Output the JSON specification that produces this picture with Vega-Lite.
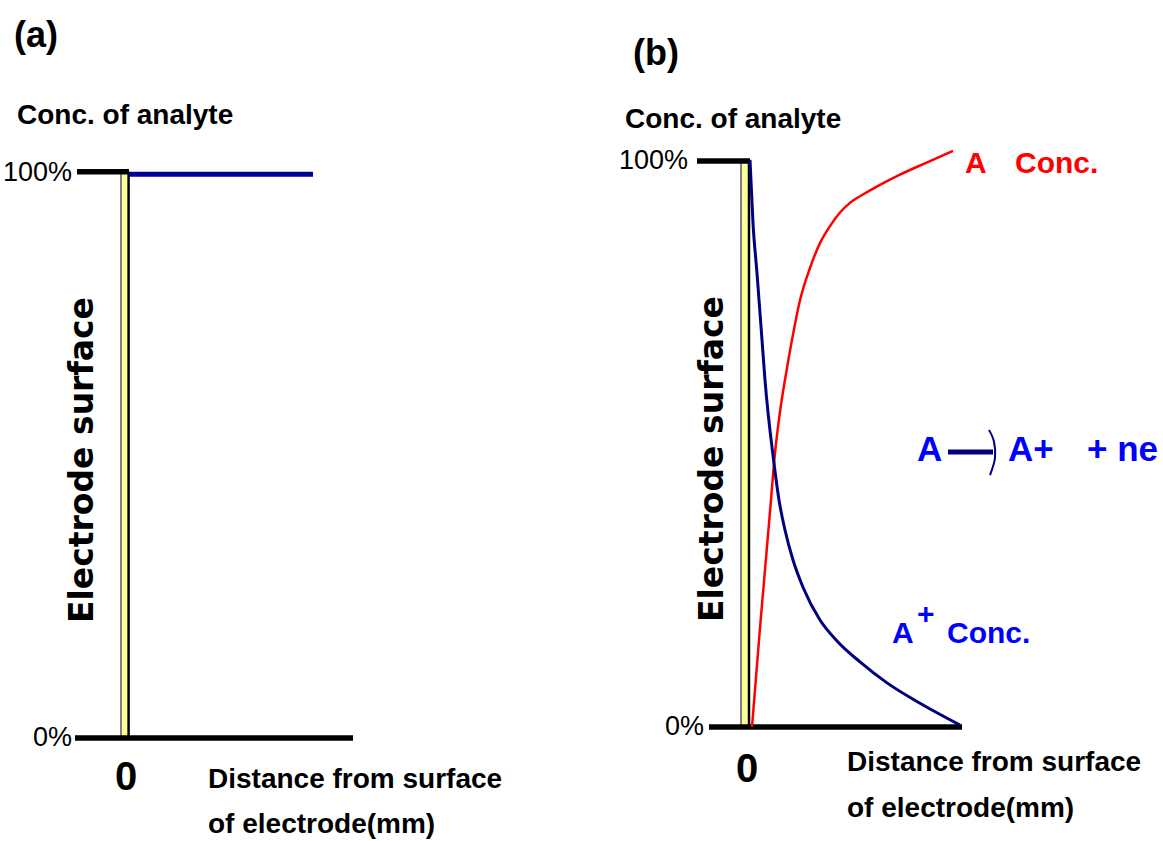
{
  "$schema": "https://vega.github.io/schema/vega-lite/v6.json",
  "background": "white",
  "padding": 0,
  "spacing": 0,
  "bounds": "flush",
  "config": {"view": {"stroke": null}},
  "hconcat": [
    {
      "width": 580,
      "height": 841,
      "encoding": {
        "x": {"field": "x", "type": "quantitative", "scale": {"domain": [-6.45, 22.55], "nice": false, "zero": false}, "axis": null},
        "y": {"field": "y", "type": "quantitative", "scale": {"domain": [-18.23, 130.62], "nice": false, "zero": false}, "axis": null}
      },
      "layer": [
        {
          "data": {"values": [{"x": -0.4, "x2": 0, "y": 0, "y2": 100}]},
          "mark": {"type": "rect", "fill": "#ffff99"},
          "encoding": {"x2": {"field": "x2"}, "y2": {"field": "y2"}}
        },
        {
          "data": {"values": [{"x": -0.4, "y": 0, "y2": 100}]},
          "mark": {"type": "rule", "stroke": "#808080", "strokeWidth": 2},
          "encoding": {"y2": {"field": "y2"}}
        },
        {
          "data": {"values": [{"x": -0.02, "y": 0, "y2": 100.2}]},
          "mark": {"type": "rule", "stroke": "#000000", "strokeWidth": 2.5},
          "encoding": {"y2": {"field": "y2"}}
        },
        {
          "data": {"values": [{"x": -2.6, "x2": 0, "y": 100.2}, {"x": -2.7, "x2": 11.2, "y": 0}]},
          "mark": {"type": "rule", "stroke": "#000000", "strokeWidth": 5.5},
          "encoding": {"x2": {"field": "x2"}}
        },
        {
          "data": {"values": [{"x": 0, "x2": 9.2, "y": 99.8}]},
          "mark": {"type": "rule", "stroke": "#000099", "strokeWidth": 5},
          "encoding": {"x2": {"field": "x2"}}
        },
        {
          "data": {"values": [{"x": -2.85, "y": 100, "label": "100%"}, {"x": -2.85, "y": 0, "label": "0%"}]},
          "mark": {"type": "text", "align": "right", "baseline": "middle", "font": "Liberation Sans", "fontSize": 27, "fill": "#000000"},
          "encoding": {"text": {"field": "label"}}
        },
        {
          "data": {"values": [{"x": -5.75, "y": 124.2, "label": "(a)"}]},
          "mark": {"type": "text", "align": "left", "baseline": "middle", "font": "Liberation Sans", "fontWeight": "bold", "fontSize": 36, "fill": "#000000"},
          "encoding": {"text": {"field": "label"}}
        },
        {
          "data": {"values": [{"x": -5.6, "y": 108.67, "label": "Conc. of analyte"}]},
          "mark": {"type": "text", "align": "left", "baseline": "alphabetic", "font": "Liberation Sans", "fontWeight": "bold", "fontSize": 28, "fill": "#000000"},
          "encoding": {"text": {"field": "label"}}
        },
        {
          "data": {"values": [{"x": -2.3, "y": 49.2, "label": "Electrode surface"}]},
          "mark": {"type": "text", "align": "center", "baseline": "middle", "angle": 270, "font": "DejaVu Sans", "fontWeight": "bold", "fontSize": 33, "fill": "#000000"},
          "encoding": {"text": {"field": "label"}}
        },
        {
          "data": {"values": [{"x": -0.15, "y": -9.2, "label": "0"}]},
          "mark": {"type": "text", "align": "center", "baseline": "alphabetic", "font": "Liberation Sans", "fontWeight": "bold", "fontSize": 40, "fill": "#000000"},
          "encoding": {"text": {"field": "label"}}
        },
        {
          "data": {"values": [{"x": 3.95, "y": -8.85, "label": "Distance from surface"}, {"x": 3.95, "y": -16.8, "label": "of electrode(mm)"}]},
          "mark": {"type": "text", "align": "left", "baseline": "alphabetic", "font": "Liberation Sans", "fontWeight": "bold", "fontSize": 28, "fill": "#000000"},
          "encoding": {"text": {"field": "label"}}
        }
      ]
    },
    {
      "width": 583,
      "height": 841,
      "encoding": {
        "x": {"field": "x", "type": "quantitative", "scale": {"domain": [-8.5, 20.65], "nice": false, "zero": false}, "axis": null},
        "y": {"field": "y", "type": "quantitative", "scale": {"domain": [-20.14, 128.45], "nice": false, "zero": false}, "axis": null}
      },
      "layer": [
        {
          "data": {"values": [{"x": -0.45, "x2": 0, "y": 0, "y2": 100}]},
          "mark": {"type": "rect", "fill": "#ffff99"},
          "encoding": {"x2": {"field": "x2"}, "y2": {"field": "y2"}}
        },
        {
          "data": {"values": [{"x": -0.45, "y": 0, "y2": 100}]},
          "mark": {"type": "rule", "stroke": "#808080", "strokeWidth": 2},
          "encoding": {"y2": {"field": "y2"}}
        },
        {
          "data": {"values": [{"x": -0.05, "y": 0, "y2": 100}]},
          "mark": {"type": "rule", "stroke": "#000000", "strokeWidth": 2.5},
          "encoding": {"y2": {"field": "y2"}}
        },
        {
          "data": {"values": [{"x": -2.65, "x2": 0, "y": 100}, {"x": -2.05, "x2": 10.6, "y": 0}]},
          "mark": {"type": "rule", "stroke": "#000000", "strokeWidth": 5.5},
          "encoding": {"x2": {"field": "x2"}}
        },
        {
          "data": {"values": [
            {"x": 0.1, "y": 0}, {"x": 0.5, "y": 17.5}, {"x": 1.05, "y": 40.1}, {"x": 1.2, "y": 46.6},
            {"x": 1.5, "y": 55.7}, {"x": 1.8, "y": 62.4}, {"x": 2.1, "y": 68.4}, {"x": 2.5, "y": 75.4},
            {"x": 3.0, "y": 81.1}, {"x": 3.5, "y": 85.5}, {"x": 4.0, "y": 88.5}, {"x": 4.5, "y": 90.9},
            {"x": 5.0, "y": 92.6}, {"x": 5.75, "y": 94.3}, {"x": 6.5, "y": 95.8}, {"x": 7.5, "y": 97.6},
            {"x": 8.75, "y": 99.6}, {"x": 10.15, "y": 101.8}
          ]},
          "mark": {"type": "line", "stroke": "#ff0000", "strokeWidth": 2.5, "interpolate": "monotone"}
        },
        {
          "data": {"values": [
            {"x": 0, "y": 100.2}, {"x": 0.15, "y": 89.0}, {"x": 0.35, "y": 80.2}, {"x": 0.6, "y": 68.4},
            {"x": 0.75, "y": 61.3}, {"x": 1.2, "y": 46.6}, {"x": 1.45, "y": 40.1}, {"x": 1.75, "y": 34.8},
            {"x": 2.15, "y": 29.5}, {"x": 2.65, "y": 24.7}, {"x": 3.5, "y": 18.9}, {"x": 4.35, "y": 15.2},
            {"x": 5.5, "y": 11.5}, {"x": 6.85, "y": 7.8}, {"x": 8.5, "y": 4.2}, {"x": 10.5, "y": 0.35}
          ]},
          "mark": {"type": "line", "stroke": "#000080", "strokeWidth": 3, "interpolate": "monotone"}
        },
        {
          "data": {"values": [{"x": 9.9, "x2": 12.15, "y": 48.6}]},
          "mark": {"type": "rule", "stroke": "#000080", "strokeWidth": 5},
          "encoding": {"x2": {"field": "x2"}}
        },
        {
          "data": {"values": [
            {"o": 1, "x": 11.95, "y": 52.5}, {"o": 2, "x": 12.2, "y": 50.4},
            {"o": 3, "x": 12.25, "y": 47.5}, {"o": 4, "x": 12.0, "y": 44.5}
          ]},
          "mark": {"type": "line", "stroke": "#000080", "strokeWidth": 2, "interpolate": "cardinal"},
          "encoding": {"order": {"field": "o", "type": "quantitative"}}
        },
        {
          "data": {"values": [{"x": -3.1, "y": 100, "label": "100%"}, {"x": -2.3, "y": 0, "label": "0%"}]},
          "mark": {"type": "text", "align": "right", "baseline": "middle", "font": "Liberation Sans", "fontSize": 27, "fill": "#000000"},
          "encoding": {"text": {"field": "label"}}
        },
        {
          "data": {"values": [{"x": -5.85, "y": 118.9, "label": "(b)"}]},
          "mark": {"type": "text", "align": "left", "baseline": "middle", "font": "Liberation Sans", "fontWeight": "bold", "fontSize": 36, "fill": "#000000"},
          "encoding": {"text": {"field": "label"}}
        },
        {
          "data": {"values": [{"x": -6.25, "y": 105.8, "label": "Conc. of analyte"}]},
          "mark": {"type": "text", "align": "left", "baseline": "alphabetic", "font": "Liberation Sans", "fontWeight": "bold", "fontSize": 28, "fill": "#000000"},
          "encoding": {"text": {"field": "label"}}
        },
        {
          "data": {"values": [{"x": -1.85, "y": 47.35, "label": "Electrode surface"}]},
          "mark": {"type": "text", "align": "center", "baseline": "middle", "angle": 270, "font": "DejaVu Sans", "fontWeight": "bold", "fontSize": 33, "fill": "#000000"},
          "encoding": {"text": {"field": "label"}}
        },
        {
          "data": {"values": [{"x": -0.15, "y": -9.72, "label": "0"}]},
          "mark": {"type": "text", "align": "center", "baseline": "alphabetic", "font": "Liberation Sans", "fontWeight": "bold", "fontSize": 40, "fill": "#000000"},
          "encoding": {"text": {"field": "label"}}
        },
        {
          "data": {"values": [{"x": 4.85, "y": -7.77, "label": "Distance from surface"}, {"x": 4.85, "y": -15.9, "label": "of electrode(mm)"}]},
          "mark": {"type": "text", "align": "left", "baseline": "alphabetic", "font": "Liberation Sans", "fontWeight": "bold", "fontSize": 28, "fill": "#000000"},
          "encoding": {"text": {"field": "label"}}
        },
        {
          "data": {"values": [{"x": 10.75, "y": 99.5, "label": "A"}, {"x": 13.25, "y": 99.5, "label": "Conc."}]},
          "mark": {"type": "text", "align": "left", "baseline": "middle", "font": "Liberation Sans", "fontWeight": "bold", "fontSize": 30, "fill": "#ff0000"},
          "encoding": {"text": {"field": "label"}}
        },
        {
          "data": {"values": [{"x": 8.35, "y": 48.9, "label": "A"}, {"x": 12.9, "y": 48.9, "label": "A+"}, {"x": 16.85, "y": 48.9, "label": "+ ne"}]},
          "mark": {"type": "text", "align": "left", "baseline": "middle", "font": "Liberation Sans", "fontWeight": "bold", "fontSize": 35, "fill": "#0000ff"},
          "encoding": {"text": {"field": "label"}}
        },
        {
          "data": {"values": [{"x": 7.1, "y": 16.4, "label": "A"}, {"x": 9.85, "y": 16.4, "label": "Conc."}, {"x": 8.35, "y": 19.8, "label": "+"}]},
          "mark": {"type": "text", "align": "left", "baseline": "middle", "font": "Liberation Sans", "fontWeight": "bold", "fontSize": 30, "fill": "#0000ff"},
          "encoding": {"text": {"field": "label"}}
        }
      ]
    }
  ]
}
